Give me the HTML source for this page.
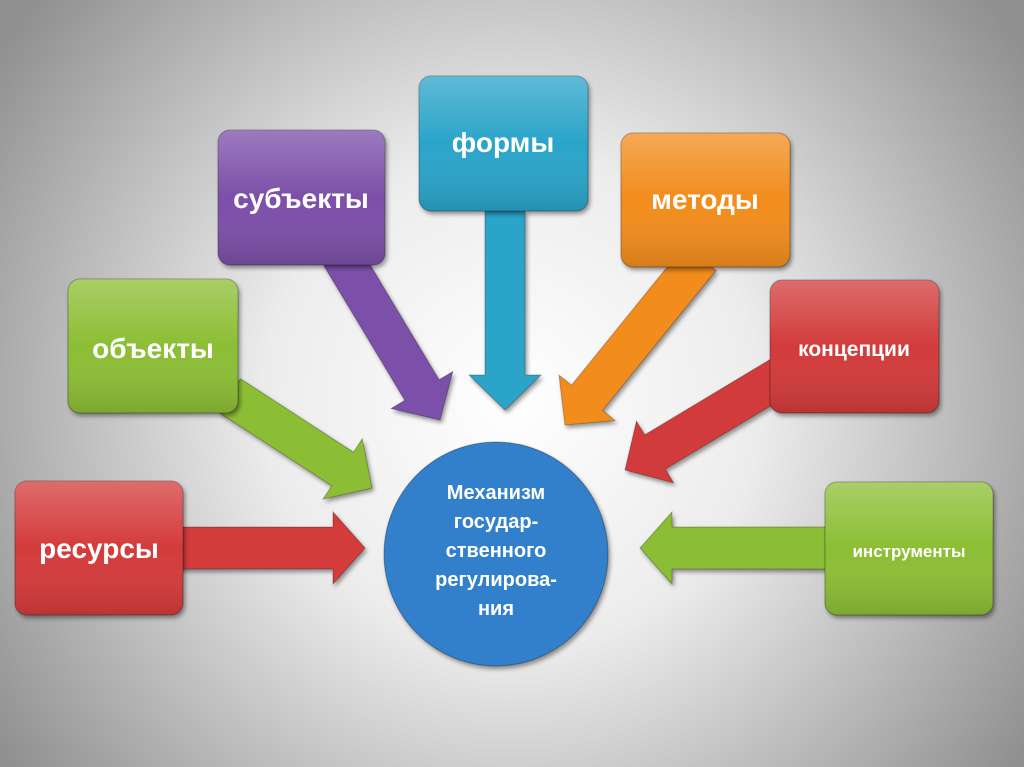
<!DOCTYPE html>
<html><head><meta charset="utf-8"><style>
body{margin:0;width:1024px;height:767px;overflow:hidden}
svg{display:block}
text{font-family:"Liberation Sans",sans-serif;font-weight:bold;fill:#fff;text-anchor:middle}
</style></head><body>
<svg width="1024" height="767" viewBox="0 0 1024 767">
<defs>
<radialGradient id="bg" cx="512" cy="400" r="620" gradientUnits="userSpaceOnUse">
<stop offset="0" stop-color="#ffffff"/><stop offset="0.4" stop-color="#ececec"/><stop offset="1" stop-color="#909090"/></radialGradient>
<linearGradient id="sh" x1="0" y1="0" x2="0" y2="1"><stop offset="0" stop-color="#fff" stop-opacity=".25"/><stop offset=".5" stop-color="#fff" stop-opacity="0"/><stop offset="1" stop-color="#000" stop-opacity=".12"/></linearGradient>
<filter id="ds" x="-20%" y="-20%" width="140%" height="140%"><feDropShadow dx="2" dy="3" stdDeviation="2" flood-opacity=".4"/></filter>
</defs>
<rect width="1024" height="767" fill="url(#bg)"/>
<g filter="url(#ds)" stroke="rgba(0,0,0,.25)" stroke-width="1">
<polygon transform="translate(372,488) rotate(33)" points="-170,-20 -35,-20 -35,-36 0,0 -35,36 -35,20 -170,20" fill="#8cbe35"/>
<polygon transform="translate(440,420) rotate(59)" points="-195,-20 -35,-20 -35,-36 0,0 -35,36 -35,20 -195,20" fill="#7b4fa9"/>
<polygon transform="translate(505,410) rotate(90)" points="-200,-20 -35,-20 -35,-36 0,0 -35,36 -35,20 -200,20" fill="#2ba4c9"/>
<polygon transform="translate(565,425) rotate(129)" points="-215,-20 -35,-20 -35,-36 0,0 -35,36 -35,20 -215,20" fill="#f28c1f"/>
<polygon transform="translate(625,470) rotate(149)" points="-195,-20 -35,-20 -35,-36 0,0 -35,36 -35,20 -195,20" fill="#d23a3a"/>
<polygon transform="translate(365,548) rotate(0)" points="-190,-21 -32,-21 -32,-36 0,0 -32,36 -32,21 -190,21" fill="#d43b3b"/>
<polygon transform="translate(640,548) rotate(180)" points="-190,-21 -32,-21 -32,-36 0,0 -32,36 -32,21 -190,21" fill="#8cbe35"/>
</g>
<g filter="url(#ds)" stroke="rgba(0,0,0,.3)" stroke-width="1">
<rect x="218" y="130" width="167" height="135" rx="12" fill="#7b4fa9"/>
<rect x="419" y="76" width="169" height="135" rx="12" fill="#2ba4c9"/>
<rect x="621" y="133" width="169" height="134" rx="12" fill="#f28c1f"/>
<rect x="68" y="279" width="170" height="134" rx="12" fill="#8cbe35"/>
<rect x="770" y="280" width="169" height="133" rx="12" fill="#d23a3a"/>
<rect x="15" y="481" width="168" height="134" rx="12" fill="#d43b3b"/>
<rect x="825" y="482" width="168" height="133" rx="12" fill="#8cbe35"/>
<circle cx="496" cy="554" r="112" fill="#3180cc"/>
</g>
<g fill="url(#sh)">
<rect x="218" y="130" width="167" height="135" rx="12"/>
<rect x="419" y="76" width="169" height="135" rx="12"/>
<rect x="621" y="133" width="169" height="134" rx="12"/>
<rect x="68" y="279" width="170" height="134" rx="12"/>
<rect x="770" y="280" width="169" height="133" rx="12"/>
<rect x="15" y="481" width="168" height="134" rx="12"/>
<rect x="825" y="482" width="168" height="133" rx="12"/>
</g>
<text x="301" y="208" font-size="28">субъекты</text>
<text x="503" y="152" font-size="28">формы</text>
<text x="705" y="209" font-size="28">методы</text>
<text x="153" y="358" font-size="28">объекты</text>
<text x="854" y="356" font-size="21">концепции</text>
<text x="99" y="558" font-size="28">ресурсы</text>
<text x="909" y="557" font-size="17">инструменты</text>
<g font-size="20">
<text x="496" y="499">Механизм</text>
<text x="496" y="528">государ-</text>
<text x="496" y="557">ственного</text>
<text x="496" y="586">регулирова-</text>
<text x="496" y="615">ния</text>
</g>
</svg>
</body></html>
